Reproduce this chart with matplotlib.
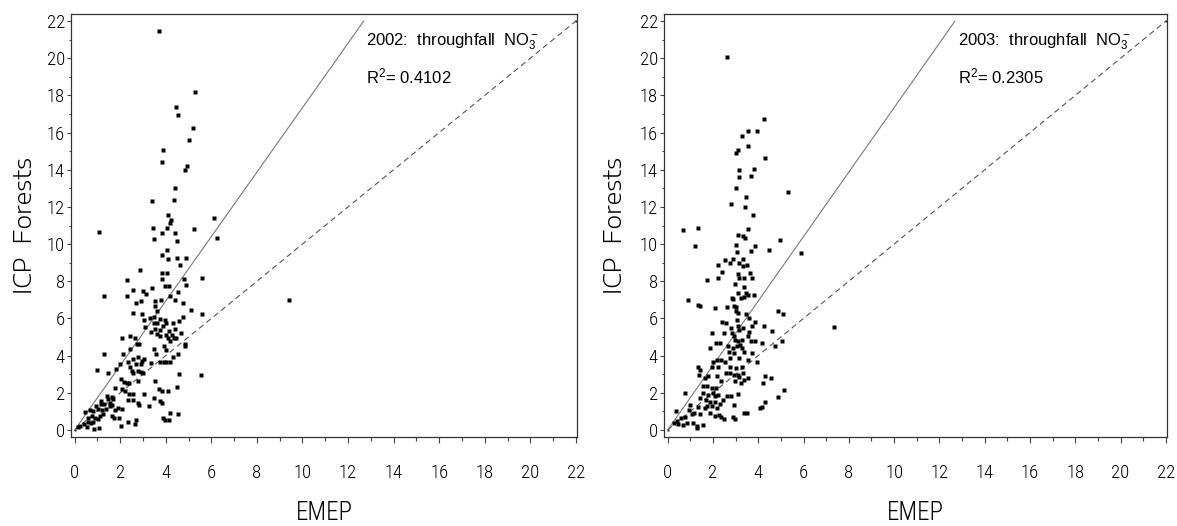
import matplotlib
matplotlib.use("Agg")
import matplotlib.pyplot as plt
from matplotlib.font_manager import FontProperties
from matplotlib.ticker import MultipleLocator

# EMEP modelled vs ICP Forests measured throughfall nitrate, 2002
emep_2002 = [
    3.72, 5.30, 4.43, 4.54, 5.21, 5.01, 3.88, 3.83, 4.93, 4.83,
    4.39, 4.35, 3.41, 6.12, 4.10, 4.21, 4.17, 4.04, 3.42, 5.24,
    1.07, 3.85, 4.39, 3.50, 6.27, 4.48, 4.04, 3.85, 4.10, 4.48,
    4.89, 4.64, 2.89, 3.85, 4.07, 3.85, 2.31, 5.57, 4.82, 3.98,
    4.15, 4.89, 2.57, 3.01, 3.14, 3.41, 1.29, 2.28, 2.92, 3.51,
    3.79, 4.20, 4.41, 4.55, 4.77, 2.70, 5.10, 5.61, 2.55, 3.51,
    3.63, 2.97, 3.03, 3.32, 3.50, 3.50, 3.63, 3.76, 3.95, 4.02,
    4.33, 4.57, 4.76, 3.54, 3.76, 3.89, 4.15, 4.42, 4.68, 3.33,
    3.10, 2.44, 2.10, 2.64, 2.72, 2.83, 2.41, 3.61, 3.73, 3.99,
    4.08, 4.26, 4.35, 4.45, 4.18, 4.83, 4.83, 3.91, 3.47, 3.99,
    3.58, 4.54, 4.32, 1.29, 2.14, 2.76, 2.58, 2.97, 3.06, 2.33,
    3.76, 3.93, 4.02, 4.20, 3.35, 2.01, 2.70, 2.92, 1.00, 1.45,
    1.81, 2.42, 2.51, 2.58, 2.78, 2.91, 2.98, 4.58, 5.54, 2.03,
    2.17, 2.29, 2.39, 2.76, 3.51, 3.70, 3.85, 4.08, 4.49, 1.78,
    2.07, 2.22, 2.37, 3.03, 2.58, 2.35, 2.55, 2.76, 2.82, 3.25,
    3.47, 3.76, 3.82, 1.41, 1.48, 1.15, 1.16, 1.29, 1.53, 1.56,
    1.63, 1.70, 1.64, 0.94, 1.01, 0.68, 0.46, 0.82, 1.19, 1.38,
    1.78, 1.92, 2.07, 1.66, 1.73, 1.95, 2.33, 2.63, 2.04, 2.70,
    3.86, 3.95, 4.13, 4.17, 4.54, 1.26, 0.76, 0.88, 1.04, 0.57,
    1.12, 0.60, 0.70, 0.82, 0.43, 0.23, 0.16, 0.53, 0.87, 1.07,
    9.40,
]
icp_2002 = [
    21.46, 18.18, 17.36, 16.93, 16.26, 15.60, 15.04, 14.41, 14.18, 13.96,
    13.03, 12.36, 12.33, 11.39, 11.57, 11.27, 11.12, 10.89, 10.85, 10.82,
    10.66, 10.60, 10.60, 10.30, 10.35, 10.19, 9.69, 9.43, 9.22, 9.25,
    9.25, 8.88, 8.61, 8.43, 8.43, 8.10, 8.05, 8.18, 8.14, 7.73,
    7.73, 7.82, 7.51, 7.46, 7.31, 7.64, 7.21, 7.19, 6.95, 6.95,
    7.01, 7.19, 7.01, 7.40, 6.85, 6.85, 6.45, 6.24, 6.29, 6.65,
    6.42, 6.24, 5.93, 6.00, 6.06, 5.77, 5.77, 5.97, 5.93, 5.73,
    5.73, 5.88, 6.06, 5.43, 5.37, 5.57, 5.34, 5.43, 5.19, 5.25,
    5.52, 5.07, 4.94, 4.94, 4.62, 4.62, 4.35, 5.16, 5.07, 5.12,
    4.96, 5.12, 4.94, 4.94, 4.80, 4.62, 4.49, 4.53, 4.35, 4.28,
    4.06, 4.08, 3.94, 4.11, 4.11, 3.94, 3.81, 3.72, 3.81, 3.63,
    3.63, 3.63, 3.63, 3.63, 3.59, 3.54, 3.54, 3.54, 3.23, 3.04,
    3.29, 3.36, 3.18, 3.04, 3.18, 3.13, 3.04, 3.00, 2.95, 2.73,
    2.57, 2.50, 2.50, 2.64, 2.64, 2.19, 2.12, 2.07, 2.32, 2.28,
    2.19, 2.10, 1.96, 1.92, 1.92, 1.60, 1.60, 1.47, 1.33, 1.29,
    1.74, 1.56, 1.47, 1.83, 1.65, 1.56, 1.38, 1.38, 1.47, 1.29,
    1.35, 1.65, 1.78, 1.29, 1.13, 1.06, 0.97, 1.02, 1.06, 1.11,
    1.06, 1.20, 1.11, 0.75, 0.66, 0.63, 0.45, 0.34, 0.22, 0.52,
    0.66, 0.52, 0.52, 0.90, 0.84, 0.84, 0.75, 0.63, 0.58, 0.66,
    0.75, 0.45, 0.40, 0.45, 0.31, 0.22, 0.16, 0.16, 0.04, 0.13,
    6.99,
]

# EMEP modelled vs ICP Forests measured throughfall nitrate, 2003
emep_2003 = [
    2.61, 4.26, 3.56, 3.93, 3.27, 3.53, 3.12, 3.00, 4.32, 3.82,
    3.14, 3.68, 3.15, 3.02, 5.30, 3.46, 2.78, 3.42, 3.77, 3.56,
    0.67, 1.33, 3.12, 3.34, 3.42, 1.22, 3.85, 4.98, 3.66, 4.48,
    5.88, 3.06, 3.00, 2.52, 2.77, 2.87, 3.16, 3.33, 3.49, 2.23,
    2.39, 3.34, 3.12, 3.14, 3.36, 3.63, 3.74, 2.21, 1.74, 2.97,
    3.39, 3.12, 3.44, 3.56, 3.39, 2.83, 2.90, 0.89, 3.82, 3.24,
    2.10, 2.61, 2.95, 3.02, 1.33, 1.44, 3.02, 4.88, 5.10, 3.44,
    3.09, 3.58, 2.42, 2.56, 3.05, 3.85, 2.78, 3.09, 3.15, 3.34,
    3.71, 4.26, 4.59, 7.34, 1.95, 2.49, 2.84, 3.60, 2.95, 2.97,
    3.12, 3.27, 3.56, 3.66, 3.85, 4.15, 4.76, 5.07, 2.31, 2.12,
    2.67, 2.90, 3.05, 3.19, 3.30, 1.88, 2.71, 2.93, 3.38, 3.71,
    3.16, 2.17, 2.36, 2.53, 2.75, 3.56, 3.93, 2.02, 1.33, 1.44,
    1.38, 1.95, 2.24, 2.75, 3.02, 3.27, 2.58, 2.75, 2.93, 3.09,
    3.34, 3.53, 3.14, 4.29, 4.56, 1.66, 1.77, 2.17, 2.37, 2.97,
    3.22, 3.38, 4.22, 1.55, 1.73, 1.95, 2.12, 0.75, 1.58, 1.80,
    1.99, 2.10, 2.24, 2.61, 2.80, 3.12, 4.89, 5.14, 1.44, 1.70,
    1.88, 2.07, 2.31, 2.43, 1.00, 0.95, 0.37, 1.36, 1.66, 1.76,
    1.98, 2.17, 2.95, 4.29, 4.15, 4.07, 1.07, 1.17, 1.44, 1.88,
    2.07, 2.27, 2.36, 2.49, 2.90, 2.97, 0.75, 0.59, 0.41, 0.26,
    0.48, 0.66, 0.85, 1.11, 1.29, 1.54, 3.38, 3.49, 1.29,
]
icp_2003 = [
    20.09, 16.71, 16.08, 16.08, 15.81, 15.27, 15.06, 14.88, 14.65, 14.05,
    13.98, 13.69, 13.62, 13.03, 12.79, 12.54, 12.18, 12.00, 11.59, 10.82,
    10.75, 10.85, 10.51, 10.42, 10.33, 9.92, 9.92, 10.24, 9.61, 9.70,
    9.52, 9.58, 9.97, 9.13, 8.98, 9.20, 8.98, 9.20, 8.89, 8.86,
    8.50, 8.81, 8.41, 8.18, 8.18, 8.45, 8.16, 8.18, 8.05, 7.85,
    7.69, 7.37, 7.37, 7.24, 7.13, 7.10, 7.04, 7.01, 7.28, 7.10,
    6.56, 6.59, 6.65, 6.59, 6.70, 6.65, 6.38, 6.38, 6.24, 6.24,
    6.29, 6.02, 5.79, 5.75, 5.89, 5.79, 5.48, 5.61, 5.39, 5.48,
    5.61, 5.57, 5.34, 5.52, 5.21, 5.21, 5.21, 5.27, 5.03, 4.85,
    4.76, 4.85, 5.03, 4.80, 4.76, 4.67, 4.53, 4.76, 4.67, 4.67,
    4.49, 4.40, 4.49, 4.58, 4.40, 4.40, 4.22, 4.13, 4.19, 4.13,
    3.86, 3.77, 3.77, 3.68, 3.86, 3.77, 3.63, 3.63, 3.41, 3.23,
    2.98, 3.36, 3.41, 3.41, 3.32, 3.41, 3.09, 3.09, 2.96, 2.96,
    3.05, 2.79, 2.84, 2.91, 2.79, 2.79, 2.88, 2.91, 2.64, 2.61,
    2.52, 2.70, 2.52, 2.34, 2.34, 2.25, 2.25, 2.01, 1.98, 1.89,
    1.98, 1.80, 1.89, 1.80, 1.80, 1.94, 1.76, 2.16, 1.71, 1.62,
    1.53, 1.53, 1.40, 1.62, 1.35, 1.08, 1.02, 1.22, 1.17, 1.29,
    1.29, 1.17, 1.35, 1.53, 1.26, 1.17, 0.84, 0.90, 0.84, 0.90,
    0.77, 0.81, 0.68, 0.58, 0.68, 0.58, 0.72, 0.63, 0.50, 0.40,
    0.32, 0.27, 0.40, 0.36, 0.13, 0.27, 0.90, 0.93, 0.22,
]

years = ["2002", "2003"]
r_squared = ["0.4102", "0.2305"]
fit_slope = [1.734, 1.734]
axis_max = 22
tick_values = list(range(0, 23, 2))
tick_labels = [str(v) for v in tick_values]

plt.rcParams["mathtext.fontset"] = "custom"
plt.rcParams["mathtext.rm"] = "Liberation Sans"
plt.rcParams["mathtext.it"] = "Liberation Sans:italic"
plt.rcParams["mathtext.bf"] = "Liberation Sans:bold"
plt.rcParams.update({
    "xtick.major.size": 4.5, "xtick.minor.size": 3.0,
    "xtick.major.width": 0.8, "xtick.minor.width": 0.8,
    "xtick.major.pad": 15, "xtick.color": "#444444",
    "ytick.major.size": 3.2, "ytick.minor.size": 1.8,
    "ytick.major.width": 0.8, "ytick.minor.width": 0.8,
    "ytick.major.pad": 1.2, "ytick.color": "#444444",
    "xtick.labelcolor": "black", "ytick.labelcolor": "black",
})

tick_font = FontProperties(family=["Roboto Condensed", "Liberation Sans"],
                           weight=300, size=13.5)
xlab_font = FontProperties(family=["Roboto Condensed", "Liberation Sans"],
                           weight=300, size=18)
ylab_font = FontProperties(family=["Encode Sans Expanded", "Liberation Sans"],
                           weight=300, size=17)
note_font = FontProperties(family=["Liberation Sans", "DejaVu Sans"], size=12)

W, H = 1177, 526
fig = plt.figure(figsize=(W / 100, H / 100), dpi=100)

# panel boxes in pixels: left, right, top, bottom
boxes = [(71, 577, 14, 437), (664, 1167, 14, 437)]
ylab_x = [32, 622]

datasets = [(emep_2002, icp_2002), (emep_2003, icp_2003)]

for i, (xs, ys) in enumerate(datasets):
    l, r, t, b = boxes[i]
    ax = fig.add_axes([l / W, 1 - b / H, (r - l) / W, (b - t) / H])
    ax.set_xlim(-0.16, 22.05)
    ax.set_ylim(-0.38, 22.38)

    # 1:1 reference line with its end points marked
    ax.plot([0, axis_max], [0, axis_max], color="#555555", lw=0.8,
            ls=(0, (5, 3.5)), marker="s", ms=2.0, markevery=[0, 1],
            mfc="#222222", mec="none", zorder=2)
    # fitted line
    x_end = axis_max / fit_slope[i]
    ax.plot([0, x_end], [0, fit_slope[i] * x_end], color="#7a7a7a",
            lw=0.8, zorder=2)

    ax.plot(xs, ys, ls="none", marker="s", ms=2.3, mfc="black",
            mec="none", zorder=3)

    ax.set_xticks(tick_values, tick_labels)
    ax.set_yticks(tick_values, tick_labels)
    ax.xaxis.set_minor_locator(MultipleLocator(1))
    ax.yaxis.set_minor_locator(MultipleLocator(1))
    for lab in ax.get_xticklabels() + ax.get_yticklabels():
        lab.set_fontproperties(tick_font)
    ax.tick_params(axis="x", which="major", pad=15)
    for sp in ax.spines.values():
        sp.set_color("#333333")
        sp.set_linewidth(0.9)

    ax.set_xlabel("EMEP", fontproperties=xlab_font, va="baseline")
    ax.xaxis.set_label_coords(0.5, (b - 520) / (b - t))
    ax.set_ylabel("ICP  Forests", fontproperties=ylab_font, va="baseline")
    ax.yaxis.set_label_coords((ylab_x[i] - l) / (r - l), 0.5)

    ax.text(12.8, 20.71, years[i] + r":  throughfall  NO$_3^-$",
            fontproperties=note_font, ha="left", va="baseline")
    ax.text(12.8, 18.67, r"R$^2$= " + r_squared[i],
            fontproperties=note_font, ha="left", va="baseline")

fig.savefig("out.png", dpi=100)
